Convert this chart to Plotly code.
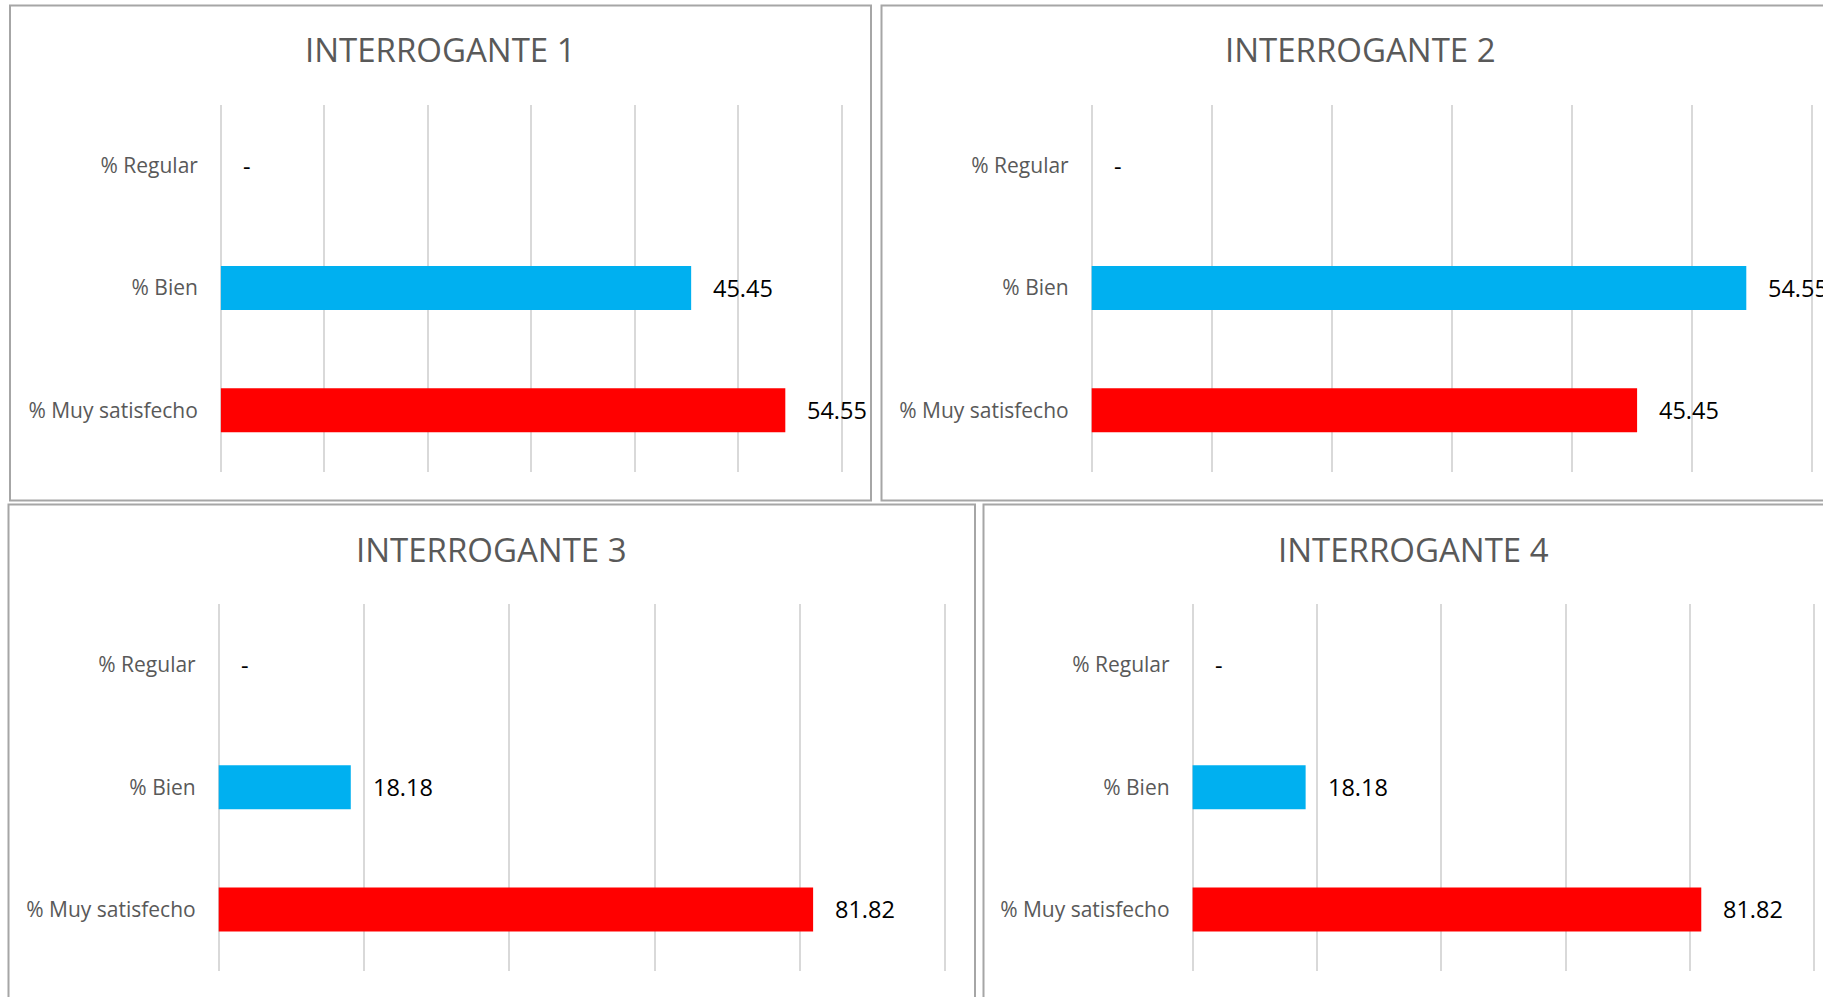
import plotly.graph_objects as go

W, H = 1823, 997

categories = ["% Muy satisfecho", "% Bien", "% Regular"]
bar_colors = ["#FF0000", "#00B0F0", "#A5A5A5"]

titles = ["INTERROGANTE 1", "INTERROGANTE 2", "INTERROGANTE 3", "INTERROGANTE 4"]
q1_values = [54.55, 45.45, 0]
q2_values = [45.45, 54.55, 0]
q3_values = [81.82, 18.18, 0]
q4_values = [81.82, 18.18, 0]
series = [q1_values, q2_values, q3_values, q4_values]

axis_max = [60, 60, 100, 100]
axis_step = [10, 10, 20, 20]

# layout in pixels (x at 0, x at max, y_top, y_bottom) of plot areas
plot_boxes = [
    (220.9, 841.7, 104.5, 471.5),
    (1091.7, 1811.7, 104.5, 471.5),
    (218.7, 945.2, 604.0, 970.5),
    (1192.6, 1814.3, 604.0, 970.5),
]
panel_boxes = [
    (10, 871, 5.5, 500.5),
    (881.5, 1860, 5.5, 500.5),
    (8.5, 975, 504.5, 1020),
    (983.5, 1860, 504.5, 1020),
]
title_pos = [(440.5, 49), (1360.8, 49), (491.2, 549), (1413.2, 549)]
PAD_PX = 2

def px(x):
    return x / W

def py(y):
    return 1 - y / H

fig = go.Figure()
annotations = []
shapes = []

for i in range(4):
    n = "" if i == 0 else str(i + 1)
    vals = series[i]
    fig.add_trace(go.Bar(
        x=vals, y=categories, orientation="h",
        marker=dict(color=bar_colors, line=dict(width=0)),
        xaxis="x" + n, yaxis="y" + n, showlegend=False,
        hoverinfo="x+y",
    ))
    x0, x1, yt, yb = plot_boxes[i]
    ppu = (x1 - x0) / axis_max[i]
    pad_u = PAD_PX / ppu
    fig.update_layout(**{
        "xaxis" + n: dict(
            domain=[px(x0 - PAD_PX), px(x1 + PAD_PX)],
            range=[-pad_u, axis_max[i] + pad_u], dtick=axis_step[i],
            tick0=0, showgrid=True, gridcolor="#D9D9D9", gridwidth=1.5,
            zeroline=True, zerolinecolor="#D9D9D9", zerolinewidth=1.5,
            showticklabels=False, showline=False,
            anchor="y" + n, fixedrange=True,
        ),
        "yaxis" + n: dict(
            domain=[py(yb), py(yt)], anchor="x" + n, showgrid=False,
            zeroline=False, showline=False, ticks="",
            tickfont=dict(family="Open Sans", size=21, color="#595959"),
            ticklabelstandoff=20, fixedrange=True,
            categoryorder="array", categoryarray=categories,
        ),
    })
    for cat, v in zip(categories, vals):
        annotations.append(dict(
            x=v, y=cat, xref="x" + n, yref="y" + n,
            text=(f"{v:.2f}" if v else "-"),
            showarrow=False, xanchor="left", yanchor="middle", xshift=20, yshift=0,
            font=dict(family="Open Sans", size=23.5, color="#000000"),
        ))
    tx, ty = title_pos[i]
    annotations.append(dict(
        x=px(tx), y=py(ty), xref="paper", yref="paper", text=titles[i],
        showarrow=False, xanchor="center", yanchor="middle",
        font=dict(family="Open Sans", size=33, color="#595959"),
    ))
    bx0, bx1, by0, by1 = panel_boxes[i]
    shapes.append(dict(
        type="rect", xref="paper", yref="paper",
        x0=px(bx0), x1=px(bx1), y0=py(by1), y1=py(by0),
        line=dict(color="#A6A6A6", width=2), fillcolor="rgba(0,0,0,0)", layer="below",
    ))

fig.update_layout(
    width=W, height=H, margin=dict(l=0, r=0, t=0, b=0),
    paper_bgcolor="white", plot_bgcolor="white",
    bargap=0.64, annotations=annotations, shapes=shapes,
    font=dict(family="Open Sans"),
)

fig.write_html(
    "out.html",
    config={"displayModeBar": False},
    post_script="document.body.style.margin='0';document.body.style.overflow='hidden';",
)
